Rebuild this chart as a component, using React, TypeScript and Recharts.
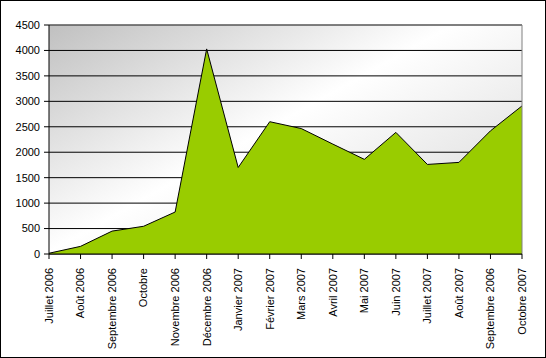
import { AreaChart, Area, XAxis, YAxis, CartesianGrid, ReferenceLine } from 'recharts';

// ── Data ──────────────────────────────────────────────────────────────────────
const MONTHS = [
  'Juillet 2006',
  'Août 2006',
  'Septembre 2006',
  'Octobre',
  'Novembre 2006',
  'Décembre 2006',
  'Janvier 2007',
  'Février 2007',
  'Mars 2007',
  'Avril 2007',
  'Mai 2007',
  'Juin 2007',
  'Juillet 2007',
  'Août 2007',
  'Septembre 2006',
  'Octobre 2007',
];
const VALUES = [15, 150, 450, 545, 825, 4030, 1700, 2600, 2465, 2160, 1860, 2390, 1760, 1800, 2420, 2910];
const Y_TICKS = [0, 500, 1000, 1500, 2000, 2500, 3000, 3500, 4000, 4500];

const data = MONTHS.map((m, i) => ({ i, month: m, value: VALUES[i] }));

const FONT = '"Liberation Sans", Arial, sans-serif';

// ── Rotated x tick ────────────────────────────────────────────────────────────
function MonthTick({ x, y, payload }: any) {
  return (
    <g transform={`translate(${x},${y + 7})`}>
      <text
        transform="rotate(-90)"
        textAnchor="end"
        dy="0.35em"
        fontSize={11}
        fontFamily={FONT}
        fill="#000"
      >
        {MONTHS[payload.value]}
      </text>
    </g>
  );
}

export default function App() {
  return (
    <div style={{ position: 'fixed', top: 0, left: 0, width: 546, height: 358, background: '#fff' }}>
      <AreaChart
        width={546}
        height={358}
        data={data}
        margin={{ top: 25, right: 24, bottom: 4, left: 5 }}
      >
        <defs>
          {/* grey corner → white band → faint grey, like the Excel plot fill */}
          <linearGradient id="plotBg" gradientUnits="userSpaceOnUse" x1={49} y1={25} x2={260} y2={400}>
            <stop offset="0%" stopColor="#c0c0c0" />
            <stop offset="46%" stopColor="#ffffff" />
            <stop offset="100%" stopColor="#d4d4d4" />
          </linearGradient>
        </defs>

        <CartesianGrid
          vertical={false}
          stroke="#000"
          strokeWidth={1}
          fill="url(#plotBg)"
          fillOpacity={1}
        />

        <XAxis
          dataKey="i"
          type="category"
          height={100}
          interval={0}
          tick={<MonthTick />}
          tickSize={5}
          axisLine={{ stroke: '#000' }}
          tickLine={{ stroke: '#000' }}
        />

        <YAxis
          width={44}
          domain={[0, 4500]}
          ticks={Y_TICKS}
          interval={0}
          tickSize={5}
          tickMargin={4}
          axisLine={{ stroke: '#000' }}
          tickLine={{ stroke: '#000' }}
          tick={{ fontSize: 11, fill: '#000', fontFamily: FONT }}
        />

        {/* plot area border, top and right */}
        <ReferenceLine y={4500} stroke="#808080" strokeWidth={1} />
        <ReferenceLine x={15} stroke="#808080" strokeWidth={1} />

        <Area
          type="linear"
          dataKey="value"
          stroke="#000"
          strokeWidth={1}
          fill="#99cc00"
          fillOpacity={1}
          dot={false}
          activeDot={false}
          isAnimationActive={false}
        />
      </AreaChart>

      {/* outer chart border */}
      <div
        style={{
          position: 'absolute',
          inset: 0,
          border: '1px solid #000',
          pointerEvents: 'none',
        }}
      />
    </div>
  );
}
